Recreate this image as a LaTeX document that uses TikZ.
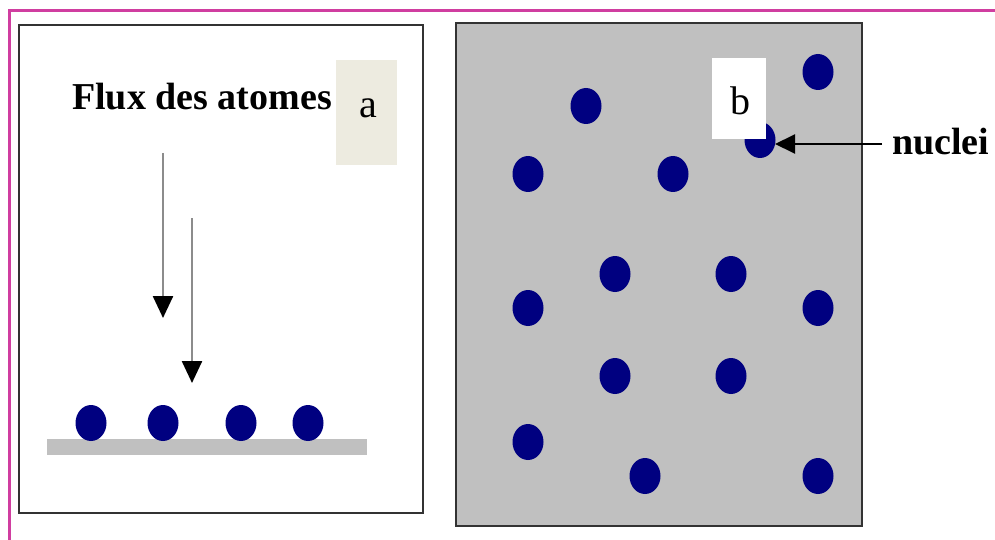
\documentclass[tikz,border=0pt]{standalone}
\usepackage{fontspec}
\setmainfont{Liberation Serif}
\usetikzlibrary{arrows.meta,shapes.geometric}
\definecolor{frame}{RGB}{208,62,160}
\definecolor{dot}{RGB}{0,0,128}
\definecolor{panelgray}{RGB}{192,192,192}
\definecolor{labelbg}{RGB}{237,235,224}
\begin{document}
\begin{tikzpicture}[x=1pt,y=-1pt,
  nucleus/.style={ellipse,fill=dot,minimum width=31pt,minimum height=36pt,inner sep=0pt},
  panel/.style={draw=black!80,line width=2pt},
  fluxarrow/.style={draw=black!45,line width=2.5pt,-{Triangle[width=20pt,length=22pt,color=black]}},
  big/.style={font=\fontsize{40}{48}\selectfont},
  bigbold/.style={font=\fontsize{38}{46}\selectfont\bfseries}]
\useasboundingbox (0,0) rectangle (995,540);
% magenta frame
\draw[frame,line width=3pt] (9,540) -- (9,11) -- (995,11);
% panel a
\draw[panel] (19,25) rectangle (423,513);
\node[fill=labelbg,minimum width=61pt,minimum height=105pt,inner sep=0pt] (la) at (366,113) {};
\node[big,anchor=base] at (368,118) {a};
\node[bigbold,anchor=base west,inner sep=0pt] (flux) at (72,110) {Flux des atomes};
\fill[panelgray] (47,439) rectangle (367,455);
\node[nucleus] (a1) at (91,423) {};
\node[nucleus] (a2) at (163,423) {};
\node[nucleus] (a3) at (241,423) {};
\node[nucleus] (a4) at (308,423) {};
\coordinate (f1s) at (163,153);
\coordinate (f1e) at (163,318);
\coordinate (f2s) at (192,218);
\coordinate (f2e) at (192,383);
\draw[fluxarrow] (f1s) -- (f1e);
\draw[fluxarrow] (f2s) -- (f2e);
% panel b
\draw[panel,fill=panelgray] (456,23) rectangle (862,526);
\node[nucleus] (b1) at (818,72) {};
\node[nucleus] (b2) at (586,106) {};
\node[nucleus] (b3) at (760,140) {};
\node[nucleus] (b4) at (528,174) {};
\node[nucleus] (b5) at (673,174) {};
\node[nucleus] (b6) at (615,274) {};
\node[nucleus] (b7) at (731,274) {};
\node[nucleus] (b8) at (528,308) {};
\node[nucleus] (b9) at (818,308) {};
\node[nucleus] (b10) at (615,376) {};
\node[nucleus] (b11) at (731,376) {};
\node[nucleus] (b12) at (528,442) {};
\node[nucleus] (b13) at (645,476) {};
\node[nucleus] (b14) at (818,476) {};
\fill[white] (712,58) rectangle (766,139);
\node[big,anchor=base] (lb) at (740,115) {b};
\node[bigbold,anchor=base west,inner sep=0pt] (nuc) at (892,155) {nuclei};
\draw[black,line width=2pt,-{Triangle[width=19pt,length=20pt]}] (nuc.west |- b3) ++(-10,4) -- (775,144);
\end{tikzpicture}
\end{document}
